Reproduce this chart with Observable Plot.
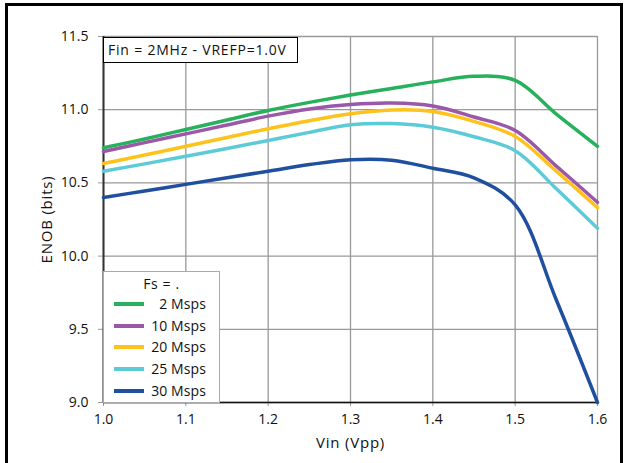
<!DOCTYPE html>
<html>
<head>
<meta charset="utf-8">
<script src="https://cdn.jsdelivr.net/npm/d3@7"></script>
<script src="https://cdn.jsdelivr.net/npm/@observablehq/plot@0.6"></script>
<style>
  html, body { margin: 0; padding: 0; background: #fff; }
  #wrap { position: relative; width: 625px; height: 463px; overflow: hidden; font-family: "Open Sans", sans-serif; }
  #frame { position: absolute; left: 5px; top: 3px; width: 612px; height: 480px; border: 3px solid #000; box-sizing: content-box; pointer-events: none; }
  #title { position: absolute; left: 103px; top: 37px; width: 189px; height: 24px; border: 1.5px solid #000; background: #fff; font-size: 14px; line-height: 24px; padding-left: 4px; box-sizing: content-box; color: #111; letter-spacing: 0.8px; white-space: nowrap; }
  #legend { position: absolute; left: 103px; top: 271px; width: 115px; height: 130px; border: 1px solid #aaa; background: #fff; font-size: 14px; color: #111; }
  #legend .hd { position: absolute; left: 0; width: 115px; top: 2px; text-align: center; letter-spacing: 0.6px; }
  #legend .row { position: absolute; left: 0; width: 115px; height: 20px; }
  #legend .sw { position: absolute; left: 10px; width: 30px; top: 9px; height: 4px; }
  #legend .lb { position: absolute; right: 13px; top: 0; line-height: 22px; letter-spacing: 0.1px; }
  svg [aria-label="y-axis label"] text, svg [aria-label="x-axis label"] text { font-size: 15px; letter-spacing: 0.8px; }
  svg [aria-label="y-axis tick label"] text, svg [aria-label="x-axis tick label"] text { font-size: 14px; }
</style>
</head>
<body>
<div id="wrap">
  <div id="chart"></div>
  <div id="title">Fin = 2MHz - VREFP=1.0V</div>
  <div id="legend"></div>
  <div id="frame"></div>
</div>
<script>
const vin = [1.0, 1.05, 1.1, 1.15, 1.2, 1.25, 1.3, 1.35, 1.4, 1.45, 1.5, 1.55, 1.6];
const seriesNames = ["2 Msps", "10 Msps", "20 Msps", "25 Msps", "30 Msps"];
const seriesColors = ["#27b15c", "#9b58a8", "#fdc31c", "#5ccbd8", "#1f4f9e"];
const enob2 = [10.74, 10.80, 10.865, 10.93, 10.995, 11.05, 11.10, 11.145, 11.19, 11.228, 11.20, 10.97, 10.75];
const enob10 = [10.714, 10.775, 10.835, 10.895, 10.956, 11.005, 11.035, 11.045, 11.025, 10.95, 10.858, 10.615, 10.368];
const enob20 = [10.633, 10.69, 10.75, 10.81, 10.87, 10.925, 10.972, 10.998, 10.988, 10.92, 10.817, 10.58, 10.33];
const enob25 = [10.58, 10.63, 10.682, 10.735, 10.79, 10.845, 10.897, 10.905, 10.88, 10.815, 10.72, 10.46, 10.19];
const enob30 = [10.40, 10.445, 10.49, 10.535, 10.58, 10.625, 10.658, 10.655, 10.60, 10.535, 10.35, 9.70, 9.0];
const xTicks = [1.0, 1.1, 1.2, 1.3, 1.4, 1.5, 1.6];
const yTicks = [9.0, 9.5, 10.0, 10.5, 11.0, 11.5];

const allSeries = [enob2, enob10, enob20, enob25, enob30];
const rows = [];
allSeries.forEach((vals, si) => {
  vals.forEach((v, i) => rows.push({series: seriesNames[si], vin: vin[i], enob: v}));
});

const plot = Plot.plot({
  width: 625,
  height: 463,
  marginLeft: 103,
  marginRight: 28,
  marginTop: 36,
  marginBottom: 61,
  style: { fontFamily: "Open Sans, sans-serif", fontSize: "14px", color: "#111", background: "transparent" },
  x: { domain: [1.0, 1.6], ticks: xTicks, tickFormat: d3.format(".1f"), label: "Vin (Vpp)" },
  y: { domain: [9.0, 11.5], ticks: yTicks, tickFormat: d3.format(".1f"), label: "ENOB (bits)" },
  color: { domain: seriesNames, range: seriesColors },
  marks: [
    Plot.gridX(xTicks, { stroke: "#999", strokeOpacity: 1, strokeWidth: 1.3 }),
    Plot.gridY(yTicks, { stroke: "#999", strokeOpacity: 1, strokeWidth: 1.3 }),
    Plot.axisX({ ticks: xTicks, tickFormat: d3.format(".1f"), tickSize: 4, tickPadding: 8, label: "Vin (Vpp)", labelAnchor: "center", labelOffset: 45, labelArrow: "none", stroke: "#999" }),
    Plot.axisY({ ticks: yTicks, tickFormat: d3.format(".1f"), tickSize: 5, tickPadding: 10, label: "ENOB (bits)", labelAnchor: "center", labelOffset: 62, labelArrow: "none", stroke: "#999" }),
    Plot.ruleX([1.0], { stroke: "#333", strokeWidth: 2 }),
    Plot.ruleY([9.0], { stroke: "#111", strokeWidth: 1.5 }),
    Plot.line(rows, { x: "vin", y: "enob", z: "series", stroke: "series", strokeWidth: 3.5, curve: "catmull-rom" })
  ]
});
document.getElementById("chart").appendChild(plot);

const legend = document.getElementById("legend");
const hd = document.createElement("div");
hd.className = "hd";
hd.textContent = "Fs = .";
legend.appendChild(hd);
seriesNames.forEach((name, i) => {
  const r = document.createElement("div");
  r.className = "row";
  r.style.top = (21 + i * 21.7) + "px";
  const sw = document.createElement("div");
  sw.className = "sw";
  sw.style.background = seriesColors[i];
  const lb = document.createElement("div");
  lb.className = "lb";
  lb.textContent = name;
  r.appendChild(sw);
  r.appendChild(lb);
  legend.appendChild(r);
});
</script>
</body>
</html>
